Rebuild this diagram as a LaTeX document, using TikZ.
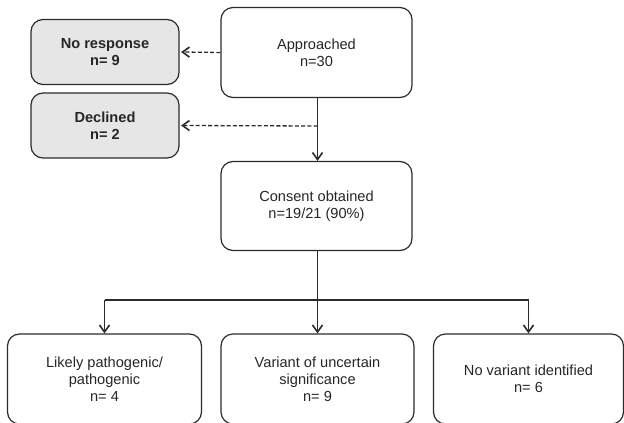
\documentclass[tikz,border=0pt]{standalone}
\usepackage{fontspec}
\setmainfont{Liberation Sans}
\usetikzlibrary{arrows.meta}
\definecolor{edge}{HTML}{2B2B2B}
\definecolor{graybox}{HTML}{E6E6E6}
\definecolor{txt}{HTML}{262626}
\begin{document}
\begin{tikzpicture}[x=1pt,y=-1pt,
  box/.style={draw=edge, line width=1.2pt, rounded corners=12pt, fill=white,
    align=center, font=\fontsize{14.6}{17}\selectfont, text=txt, inner sep=0pt},
  grybox/.style={box, fill=graybox, font=\fontsize{14.6}{17}\selectfont\bfseries},
  conn/.style={draw=edge, line width=1.3pt},
  arr/.style={conn, -{Straight Barb[length=7pt,width=10pt,line width=1.6pt]}},
  darr/.style={arr, dash pattern=on 4pt off 2.2pt}
]
\useasboundingbox (0,0) rectangle (624,423);
\node[box, minimum width=191pt, minimum height=90pt] (appr) at (316.5,52.5) {Approached\\n=30};
\node[grybox, minimum width=148pt, minimum height=65pt] (nore) at (105,52) {No response\\n= 9};
\node[grybox, minimum width=148pt, minimum height=65pt] (decl) at (105,125.5) {Declined\\n= 2};
\node[box, minimum width=191pt, minimum height=89pt] (cons) at (316.5,206) {Consent obtained\\n=19/21 (90\%)};
\node[box, minimum width=194pt, minimum height=90pt] (lp) at (104.5,379) {Likely pathogenic/\\pathogenic\\n= 4};
\node[box, minimum width=193pt, minimum height=90pt] (vus) at (317.5,379) {Variant of uncertain\\significance\\n= 9};
\node[box, minimum width=190pt, minimum height=90pt] (nv) at (528.5,379) {No variant identified\\n= 6};
\coordinate (split) at (317.5,126);
\coordinate (hub) at (317.5,300);
\draw[darr] (appr.west) -- ([xshift=1.5pt]nore.east);
\draw[arr] (appr.south -| split) -- (cons.north -| split);
\draw[darr] (split) -- ([xshift=1.5pt]decl.east);
\draw[conn] (cons.south -| hub) -- (hub);
\draw[conn] (hub -| lp.north) -- (hub -| nv.north);
\draw[arr] (hub -| lp.north) -- (lp.north);
\draw[arr] (hub -| vus.north) -- (vus.north);
\draw[arr] (hub -| nv.north) -- (nv.north);
\end{tikzpicture}
\end{document}
